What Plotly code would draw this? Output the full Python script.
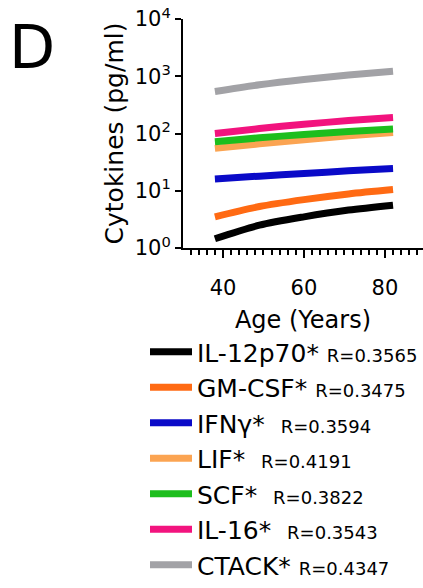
import plotly.graph_objects as go

# ---- data ----
ages = [38, 49, 60, 71, 82]
series_names = ["IL-12p70*", "GM-CSF*", "IFNγ*", "LIF*", "SCF*", "IL-16*", "CTACK*"]
r_values = ["R=0.3565", "R=0.3475", "R=0.3594", "R=0.4191", "R=0.3822", "R=0.3543", "R=0.4347"]
il12p70 = [1.45, 2.5, 3.5, 4.6, 5.6]
gmcsf = [3.5, 5.3, 7.0, 8.8, 10.5]
ifng = [16, 18, 20, 22.3, 24.5]
lif = [55, 66, 78, 91, 104]
scf = [72, 84, 96, 108, 120]
il16 = [100, 122, 145, 168, 190]
ctack = [540, 710, 880, 1050, 1220]
series_values = [il12p70, gmcsf, ifng, lif, scf, il16, ctack]
colors = ["#000000", "#FF6A13", "#0A0AC8", "#FBA452", "#1DBE1D", "#F2137E", "#A2A2A6"]
name_gaps = [" ", " ", "\u00a0\u00a0", "\u00a0\u00a0", "\u00a0\u00a0", "\u00a0\u00a0", " "]
y_tickvals = [1, 10, 100, 1000, 10000]
y_ticktext = ["10<sup>0</sup>", "10<sup>1</sup>", "10<sup>2</sup>", "10<sup>3</sup>", "10<sup>4</sup>"]
x_tickvals = [40, 60, 80]

FONT = "DejaVu Sans"
W, H = 423, 588
ML, MR, MT, MB = 183, 0, 19, 333
pw, ph = W - ML - MR, H - MT - MB

def px_x(p):
    return (p - ML) / pw

def px_y(p):
    return (H - MB - p) / ph

fig = go.Figure()
for name, gap, r, vals, col in zip(series_names, name_gaps, r_values, series_values, colors):
    fig.add_trace(go.Scatter(
        x=ages, y=vals, mode="lines",
        line=dict(color=col, width=7, shape="spline", smoothing=0.8),
        name=f"{name}{gap}<span style='font-size:18px'>{r}</span>",
    ))

fig.update_layout(
    width=W, height=H,
    margin=dict(l=ML, r=MR, t=MT, b=MB, pad=0),
    paper_bgcolor="white", plot_bgcolor="white",
    font=dict(family=FONT, color="black"),
    showlegend=True,
    legend=dict(
        x=px_x(151), y=px_y(339), xanchor="left", yanchor="top",
        font=dict(family=FONT, size=25, color="black"),
        itemwidth=42, bgcolor="rgba(0,0,0,0)", borderwidth=0,
        tracegroupgap=0,
    ),
    xaxis=dict(
        range=[30.12, 89.4], showgrid=False, zeroline=False,
        showline=True, linecolor="black", linewidth=2,
        tickmode="array", tickvals=x_tickvals,
        ticks="outside", ticklen=8, tickwidth=2, tickcolor="black",
        tickfont=dict(family=FONT, size=21, color="black"),
        ticklabelstandoff=12,
        minor=dict(dtick=2, tick0=0, ticks="outside", ticklen=5, tickwidth=2, tickcolor="black", showgrid=False),
        title=dict(text="Age (Years)", font=dict(family=FONT, size=24, color="black"), standoff=12),
    ),
    yaxis=dict(
        type="log", range=[0, 4], showgrid=False, zeroline=False,
        showline=True, linecolor="black", linewidth=2,
        tickmode="array", tickvals=y_tickvals, ticktext=y_ticktext,
        ticks="outside", ticklen=6, tickwidth=2, tickcolor="black",
        tickfont=dict(family=FONT, size=21, color="black"),
        title=dict(text="Cytokines (pg/ml)", font=dict(family=FONT, size=25, color="black"), standoff=4),
    ),
    annotations=[dict(
        text="D", x=px_x(7), y=px_y(10), xref="paper", yref="paper",
        xanchor="left", yanchor="top", showarrow=False,
        font=dict(family=FONT, size=60, color="black"),
    )],
)

fig.write_html("out.html")
